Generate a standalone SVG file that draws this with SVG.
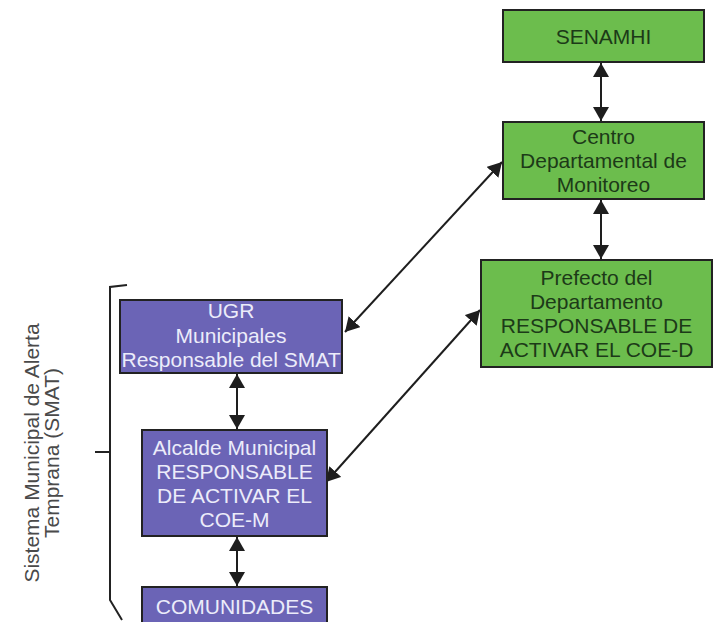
<svg xmlns="http://www.w3.org/2000/svg" width="714" height="622" viewBox="0 0 714 622">
  <style>
    .green { fill: #6cbd4d; stroke: #222; stroke-width: 2; }
    .purple { fill: #6b64b6; stroke: #222; stroke-width: 2; }
    .gtxt { font-family: "Liberation Sans", Arial, sans-serif; font-size: 21px; fill: #1c3a18; text-anchor: middle; }
    .ptxt { font-family: "Liberation Sans", Arial, sans-serif; font-size: 21px; fill: #ececfa; text-anchor: middle; }
    .label { font-family: "Liberation Sans", Arial, sans-serif; font-size: 21px; fill: #4a4a4a; text-anchor: middle; }
    .link { stroke: #1e1e1e; stroke-width: 2; fill: none; marker-start: url(#head); marker-end: url(#head); }
    .bracket { stroke: #222; stroke-width: 2; fill: none; }
  </style>
  <defs>
    <marker id="head" viewBox="0 0 14 16" refX="14" refY="8" markerWidth="14" markerHeight="16" markerUnits="userSpaceOnUse" orient="auto-start-reverse">
      <path d="M0,0 L14,8 L0,16 Z" fill="#1e1e1e"/>
    </marker>
  </defs>
  <rect width="714" height="622" fill="#ffffff"/>

  <!-- connectors -->
  <g id="connectors">
    <line class="link" x1="601" y1="63" x2="601" y2="121"/>
    <line class="link" x1="601" y1="200" x2="601" y2="259"/>
    <line class="link" x1="237" y1="374" x2="237" y2="429"/>
    <line class="link" x1="237" y1="537" x2="237" y2="586"/>
    <line class="link" x1="502" y1="162" x2="345" y2="332"/>
    <line class="link" x1="480" y1="310" x2="326" y2="482"/>
  </g>

  <!-- departmental level -->
  <g id="senamhi">
    <rect class="green" x="503" y="10" width="201" height="52"/>
    <text class="gtxt" x="603.5" y="44">SENAMHI</text>
  </g>
  <g id="centro">
    <rect class="green" x="503" y="122" width="201" height="77"/>
    <text class="gtxt" x="603.5" y="144">Centro</text>
    <text class="gtxt" x="603.5" y="168">Departamental de</text>
    <text class="gtxt" x="603.5" y="192">Monitoreo</text>
  </g>
  <g id="prefecto">
    <rect class="green" x="481" y="260" width="231" height="107"/>
    <text class="gtxt" x="596.5" y="285">Prefecto del</text>
    <text class="gtxt" x="596.5" y="309">Departamento</text>
    <text class="gtxt" x="596.5" y="333">RESPONSABLE DE</text>
    <text class="gtxt" x="596.5" y="357">ACTIVAR EL COE-D</text>
  </g>

  <!-- municipal level -->
  <g id="ugr">
    <rect class="purple" x="120" y="300" width="222" height="73"/>
    <text class="ptxt" x="231" y="318">UGR</text>
    <text class="ptxt" x="231" y="343">Municipales</text>
    <text class="ptxt" x="231" y="367">Responsable del SMAT</text>
  </g>
  <g id="alcalde">
    <rect class="purple" x="142" y="430" width="185" height="106"/>
    <text class="ptxt" x="234.5" y="455">Alcalde Municipal</text>
    <text class="ptxt" x="234.5" y="479">RESPONSABLE</text>
    <text class="ptxt" x="234.5" y="503">DE ACTIVAR EL</text>
    <text class="ptxt" x="234.5" y="527">COE-M</text>
  </g>
  <g id="comunidades">
    <rect class="purple" x="142" y="587" width="185" height="40"/>
    <text class="ptxt" x="234.5" y="614">COMUNIDADES</text>
  </g>

  <!-- bracket grouping the municipal system -->
  <g id="smat">
    <path class="bracket" d="M127,285 L110,287 L110,600 L122,620"/>
    <path class="bracket" d="M95,452 H110"/>
    <text class="label" transform="translate(39,453) rotate(-90)">Sistema Municipal de Alerta</text>
    <text class="label" transform="translate(59,453) rotate(-90)">Temprana (SMAT)</text>
  </g>
</svg>
